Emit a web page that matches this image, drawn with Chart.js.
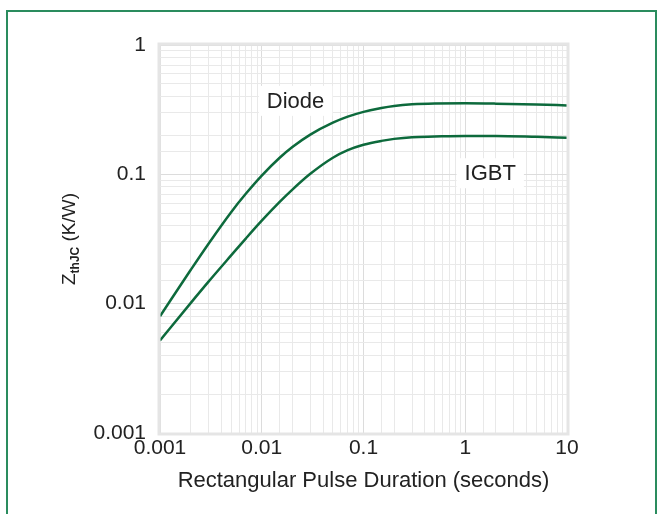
<!DOCTYPE html>
<html>
<head>
<meta charset="utf-8">
<script src="https://cdn.jsdelivr.net/npm/chart.js@4/dist/chart.umd.min.js"></script>
<style>
    html, body { margin: 0; padding: 0; background: #fff; }
    #wrap { position: relative; width: 663px; height: 514px; overflow: hidden; }
    #frame {
        position: absolute; left: 6px; top: 10px; width: 647px; height: 520px;
        border: 2px solid #2a8c5e; border-bottom: none;
    }
    #chart { position: absolute; left: 0; top: 0; }
</style>
</head>
<body>
<div id="wrap">
    <div id="frame"></div>
    <canvas id="chart" width="663" height="514"></canvas>
</div>
<script>
// pulse duration (s) and thermal impedance Zth (K/W)
var durations = [0.001, 0.002, 0.003, 0.005, 0.007, 0.01, 0.015, 0.02, 0.03, 0.05, 0.07, 0.1,
    0.15, 0.2, 0.3, 0.5, 1, 2, 5, 10];
var diodeZth = [0.008, 0.0182, 0.0291, 0.051, 0.071, 0.0978, 0.1343, 0.1626, 0.2028, 0.2507, 0.2791, 0.3041,
    0.326, 0.338, 0.348, 0.353, 0.354, 0.352, 0.347, 0.341];
var igbtZth = [0.0052, 0.0101, 0.0148, 0.0236, 0.032, 0.0438, 0.0612, 0.0762, 0.1009, 0.1344, 0.1538, 0.1692,
    0.1814, 0.188, 0.1939, 0.196, 0.198, 0.198, 0.195, 0.192];

var xTickValues = [0.001, 0.01, 0.1, 1, 10];
var yTickValues = [0.001, 0.01, 0.1, 1];

// curve names and where their labels sit (data coords)
var seriesNames = ['Diode', 'IGBT'];
var labelAt = [[0.0215, 0.37], [1.76, 0.102]];

var FONT = '"Liberation Sans", Arial, sans-serif';
var lineColor = '#0d6a3c';

function isDecade(v) {
    var l = Math.log10(v);
    return Math.abs(l - Math.round(l)) < 1e-6;
}

function gridColor(ctx) {
    return ctx.tick && isDecade(ctx.tick.value) ? '#dcdcdc' : '#e9e9e9';
}

var extras = {
    id: 'extras',
    afterDraw: function (chart) {
        var ctx = chart.ctx;
        var a = chart.chartArea;
        var xs = chart.scales.x;
        var ys = chart.scales.y;

        ctx.save();
        ctx.strokeStyle = '#e5e5e5';
        ctx.lineWidth = 3;
        ctx.strokeRect(a.left - 1, a.top - 1, a.right - a.left + 2, a.bottom - a.top + 2);

        // curve labels on white boxes
        ctx.font = '22px ' + FONT;
        ctx.textBaseline = 'middle';
        ctx.textAlign = 'center';
        for (var i = 0; i < seriesNames.length; i++) {
            var px = xs.getPixelForValue(labelAt[i][0]);
            var py = ys.getPixelForValue(labelAt[i][1]);
            var w = ctx.measureText(seriesNames[i]).width;
            ctx.fillStyle = '#fff';
            ctx.fillRect(px - w / 2 - 8, py - 15, w + 16, 30);
            ctx.fillStyle = '#222';
            ctx.fillText(seriesNames[i], px, py + 1);
        }

        // y title with subscript
        ctx.translate(68, (a.top + a.bottom) / 2);
        ctx.rotate(-Math.PI / 2);
        ctx.textAlign = 'left';
        ctx.textBaseline = 'alphabetic';
        var big = '19px ' + FONT;
        var small = 'bold 12px ' + FONT;
        ctx.font = big;
        var wZ = ctx.measureText('Z').width;
        var wRest = ctx.measureText(' (K/W)').width;
        ctx.font = small;
        var wSub = ctx.measureText('thJC').width;
        var x0 = -(wZ + wSub + wRest) / 2;
        ctx.fillStyle = '#222';
        ctx.font = big;
        ctx.fillText('Z', x0, 7);
        ctx.font = small;
        ctx.fillText('thJC', x0 + wZ, 11);
        ctx.font = big;
        ctx.fillText(' (K/W)', x0 + wZ + wSub, 7);
        ctx.restore();
    }
};

function points(values) {
    return durations.map(function (d, i) { return { x: d, y: values[i] }; });
}

new Chart(document.getElementById('chart'), {
    type: 'line',
    data: {
        datasets: [{
            label: seriesNames[0],
            data: points(diodeZth),
            borderColor: lineColor,
            borderWidth: 2.5,
            pointRadius: 0,
            cubicInterpolationMode: 'monotone'
        }, {
            label: seriesNames[1],
            data: points(igbtZth),
            borderColor: lineColor,
            borderWidth: 2.5,
            pointRadius: 0,
            cubicInterpolationMode: 'monotone'
        }]
    },
    options: {
        responsive: false,
        animation: false,
        events: [],
        layout: { padding: { left: 0, top: 45, right: 96, bottom: 0 } },
        plugins: {
            legend: { display: false },
            tooltip: { enabled: false }
        },
        scales: {
            x: {
                type: 'logarithmic',
                min: 0.001,
                max: 10,
                afterFit: function (s) { s.height = 81; },
                grid: { color: gridColor, drawTicks: false },
                border: { display: false },
                ticks: {
                    autoSkip: false,
                    maxRotation: 0,
                    padding: 3,
                    color: '#222',
                    font: { family: FONT, size: 21 },
                    callback: function (v) {
                        return xTickValues.some(function (t) { return Math.abs(t - v) < t * 1e-6; }) ? String(v) : '';
                    }
                },
                title: {
                    display: true,
                    text: 'Rectangular Pulse Duration (seconds)',
                    color: '#222',
                    font: { family: FONT, size: 22 },
                    padding: { top: 0, bottom: 20 }
                }
            },
            y: {
                type: 'logarithmic',
                min: 0.001,
                max: 1,
                afterFit: function (s) { s.width = 160; },
                grid: { color: gridColor, drawTicks: false },
                border: { display: false },
                ticks: {
                    autoSkip: false,
                    padding: 14,
                    color: '#222',
                    font: { family: FONT, size: 21 },
                    callback: function (v) {
                        return yTickValues.some(function (t) { return Math.abs(t - v) < t * 1e-6; }) ? String(v) : '';
                    }
                }
            }
        }
    },
    plugins: [extras]
});
</script>
</body>
</html>
